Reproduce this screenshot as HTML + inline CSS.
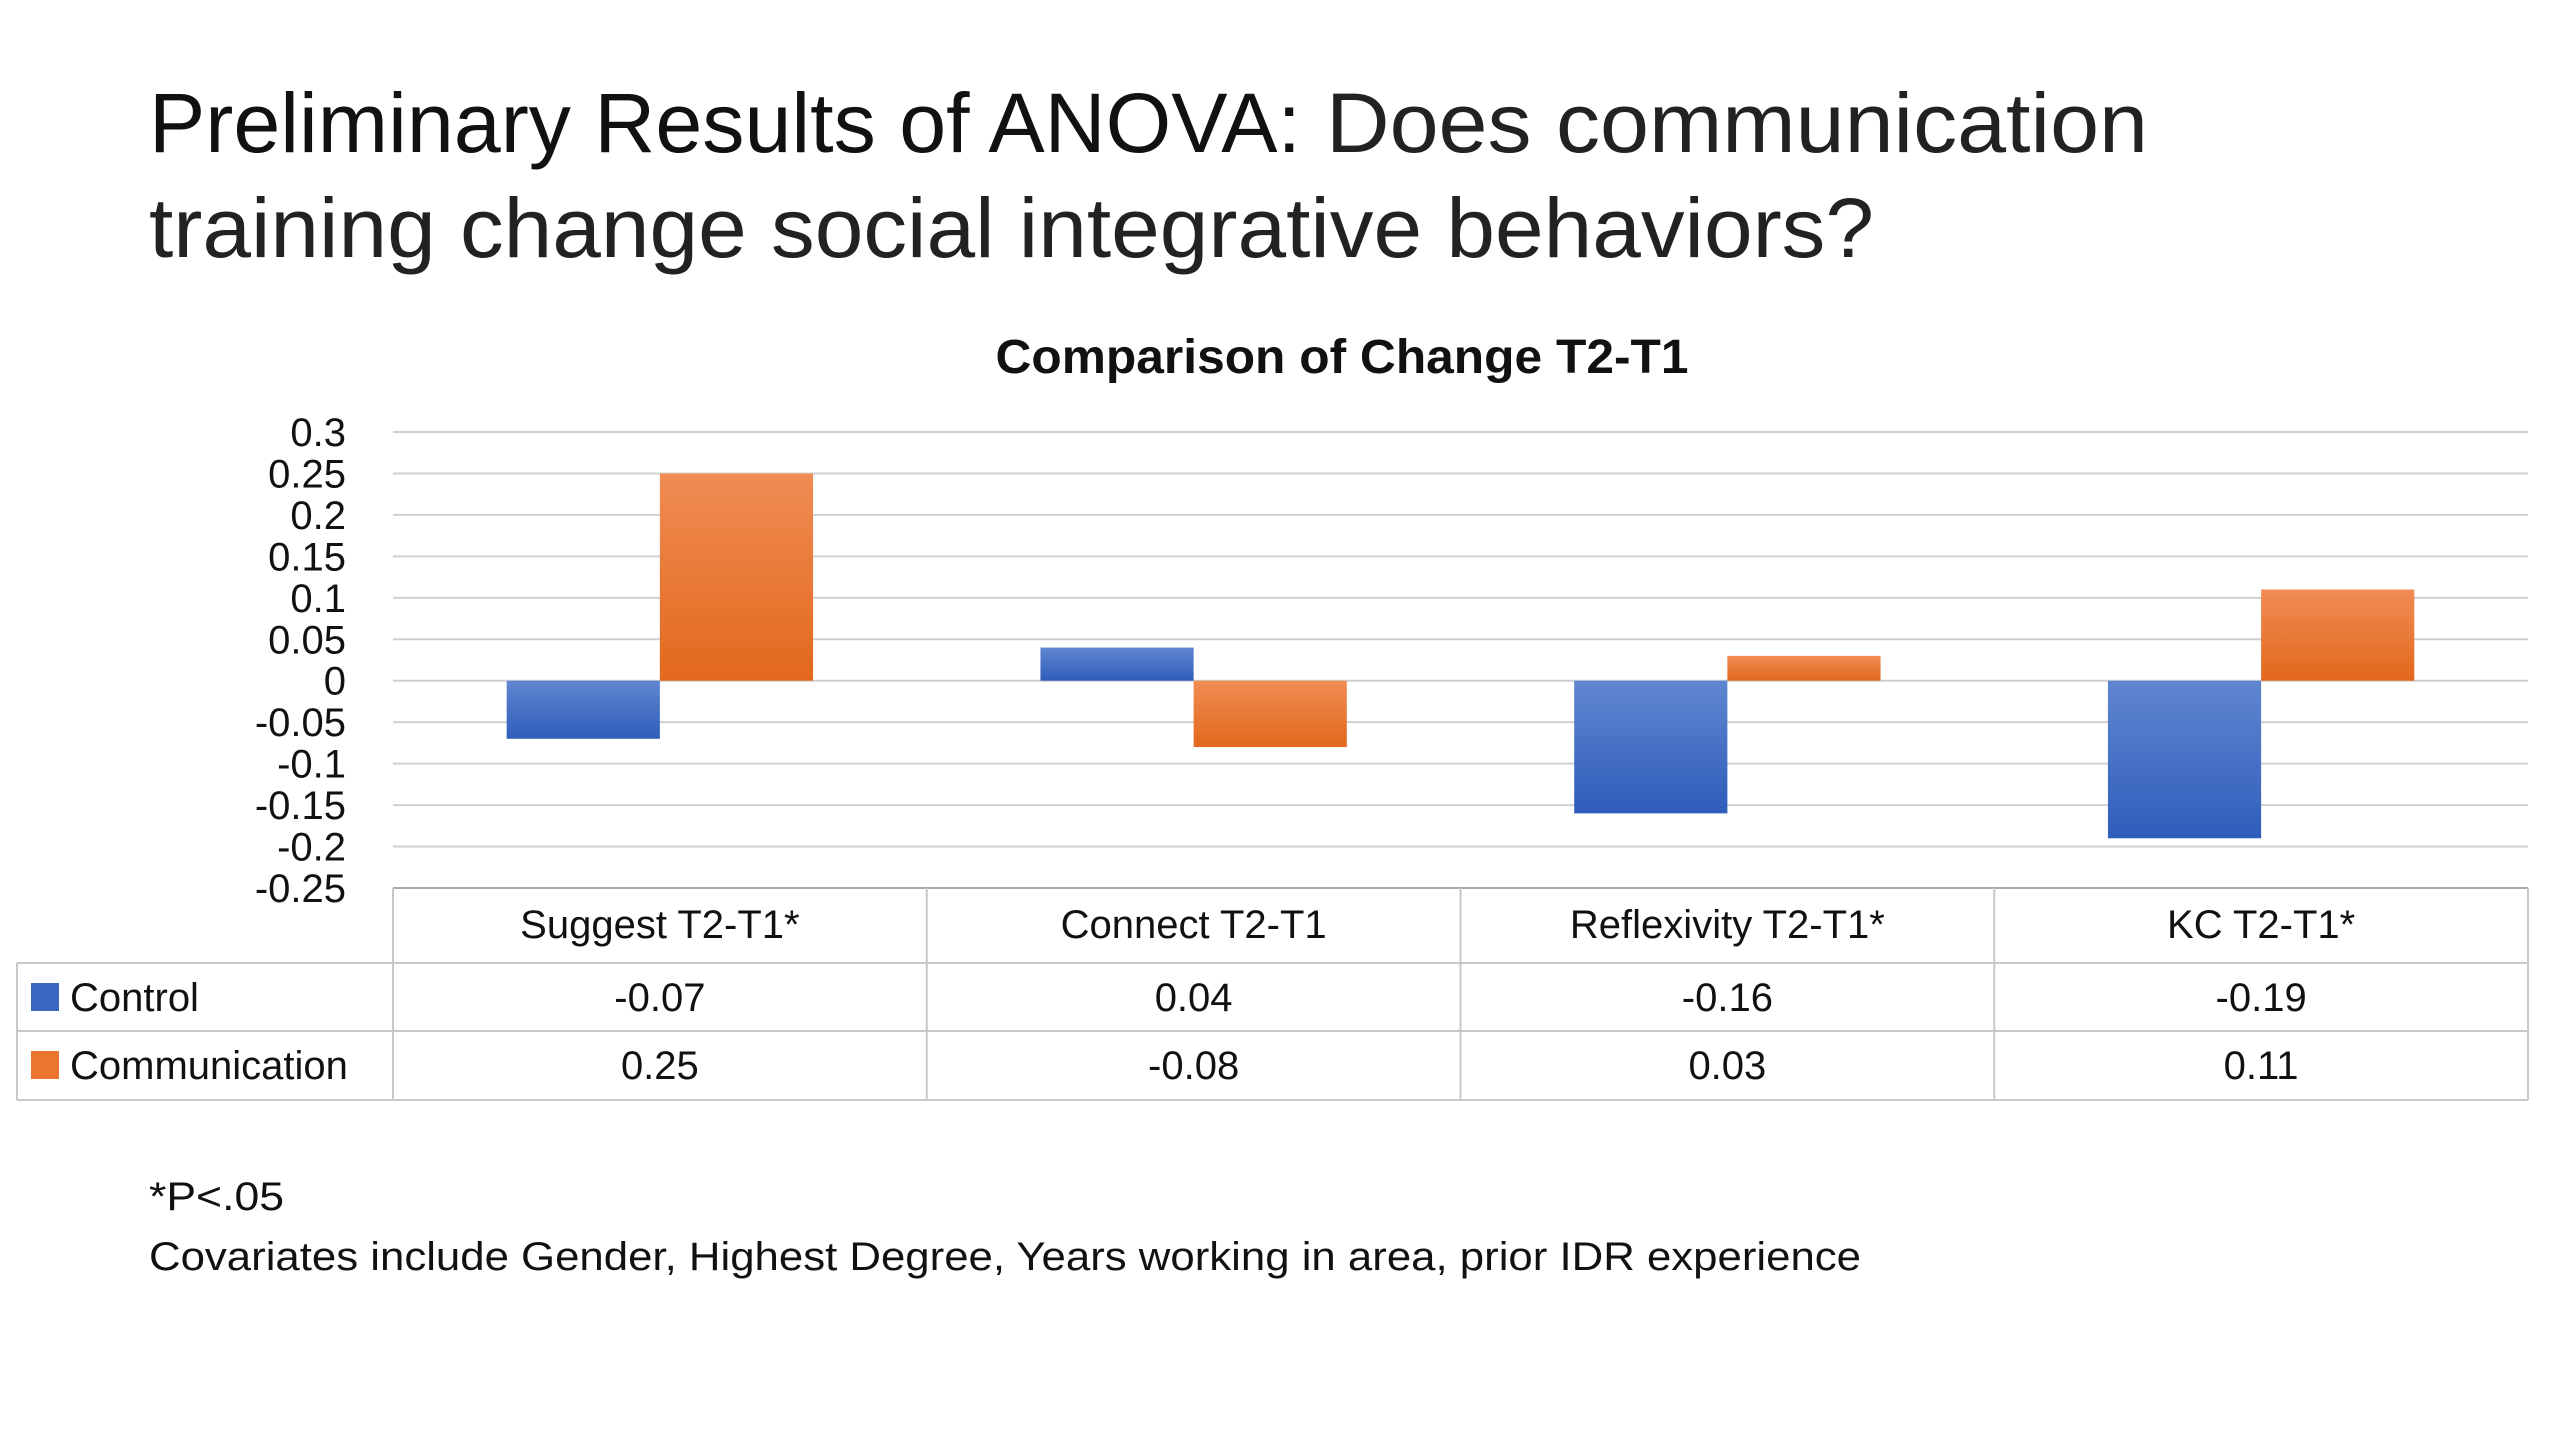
<!DOCTYPE html>
<html><head><meta charset="utf-8"><style>
html,body{margin:0;padding:0;background:#fff;}
svg{display:block;font-family:"Liberation Sans",sans-serif;}
</style></head><body>
<svg id="chart" width="2560" height="1440" viewBox="0 0 2560 1440" xmlns="http://www.w3.org/2000/svg">
<defs>
<linearGradient id="gBlue" x1="0" y1="0" x2="0" y2="1"><stop offset="0" stop-color="#5f86d0"/><stop offset="1" stop-color="#2f5dba"/></linearGradient>
<linearGradient id="gOrange" x1="0" y1="0" x2="0" y2="1"><stop offset="0" stop-color="#f08c54"/><stop offset="1" stop-color="#e2681c"/></linearGradient>
</defs>
<text x="149" y="152" font-size="84" fill="#111" textLength="1152" lengthAdjust="spacingAndGlyphs">Preliminary Results of ANOVA:</text>
<text x="1326" y="152" font-size="84" fill="#222" font-weight="300" textLength="822" lengthAdjust="spacingAndGlyphs">Does communication</text>
<text x="149" y="257" font-size="84" fill="#222" textLength="1725" lengthAdjust="spacingAndGlyphs">training change social integrative behaviors?</text>
<text x="1342" y="373" font-size="48" font-weight="bold" fill="#111" text-anchor="middle" textLength="693" lengthAdjust="spacingAndGlyphs">Comparison of Change T2-T1</text>
<g id="grid"></g>
<g id="bars"></g>
<g id="table"></g>
<text x="149" y="1210" font-size="40" fill="#111" textLength="135" lengthAdjust="spacingAndGlyphs">*P&lt;.05</text>
<text x="149" y="1270" font-size="40" fill="#111" textLength="1712" lengthAdjust="spacingAndGlyphs">Covariates include Gender, Highest Degree, Years working in area, prior IDR experience</text>
</svg>
<script>
const categories = ["Suggest T2-T1*", "Connect T2-T1", "Reflexivity T2-T1*", "KC T2-T1*"];
const controlValues = [-0.07, 0.04, -0.16, -0.19];
const communicationValues = [0.25, -0.08, 0.03, 0.11];
const controlLabels = ["-0.07", "0.04", "-0.16", "-0.19"];
const communicationLabels = ["0.25", "-0.08", "0.03", "0.11"];
const tickValues = [0.3, 0.25, 0.2, 0.15, 0.1, 0.05, 0, -0.05, -0.1, -0.15, -0.2, -0.25];
const tickLabels = ["0.3","0.25","0.2","0.15","0.1","0.05","0","-0.05","-0.1","-0.15","-0.2","-0.25"];
const seriesNames = ["Control", "Communication"];

const NS = "http://www.w3.org/2000/svg";
const L = 393, R = 2528, TOP = 432, BOT = 888;
const yMin = -0.25, yMax = 0.3;
const y = v => TOP + (yMax - v) / (yMax - yMin) * (BOT - TOP);
const bandW = (R - L) / categories.length;
const xBand = i => L + i * bandW;
function mk(tag, attrs, parent, txt) {
  const e = document.createElementNS(NS, tag);
  for (const k in attrs) e.setAttribute(k, attrs[k]);
  if (txt !== undefined) e.textContent = txt;
  parent.appendChild(e);
  return e;
}
const grid = document.getElementById('grid');
tickValues.forEach((v, i) => {
  const ln = mk('line', {x1: L, x2: R, y1: y(v), y2: y(v), stroke: '#d0d0d0', 'stroke-width': 2}, grid);
  
  
  const t = mk('text', {x: 346, y: y(v) + 14, 'font-size': 40, 'text-anchor': 'end', fill: '#111'}, grid, tickLabels[i]);
  
  
});
const bars = document.getElementById('bars');
const barW = bandW * 0.287, gap = bandW * 0.213;
categories.forEach((c, i) => {
  const x0 = xBand(i) + gap;
  const v1 = controlValues[i], v2 = communicationValues[i];
  const b1 = mk('rect', {x: x0, y: Math.min(y(v1), y(0)), width: barW, height: Math.abs(y(v1) - y(0)), fill: 'url(#gBlue)'}, bars);
  
  
  const b2 = mk('rect', {x: x0 + barW, y: Math.min(y(v2), y(0)), width: barW, height: Math.abs(y(v2) - y(0)), fill: 'url(#gOrange)'}, bars);
  
  
});
const tb = document.getElementById('table');
const rowY = [888, 963, 1031, 1100];
const TL = 17;
const lineStyle = {stroke: '#c8c8c8', 'stroke-width': 2};
mk('line', Object.assign({x1: L, x2: R, y1: 888, y2: 888}, lineStyle, {stroke: '#aaa'}), tb);
[963, 1031, 1100].forEach(yy => mk('line', Object.assign({x1: TL, x2: R, y1: yy, y2: yy}, lineStyle), tb));
mk('line', Object.assign({x1: TL, x2: TL, y1: 963, y2: 1100}, lineStyle), tb);
for (let i = 0; i <= categories.length; i++) mk('line', Object.assign({x1: xBand(i), x2: xBand(i), y1: 888, y2: 1100}, lineStyle), tb);
categories.forEach((c, i) => {
  const cx = xBand(i) + bandW / 2;
  const t = mk('text', {x: cx, y: 938, 'font-size': 40, 'text-anchor': 'middle', fill: '#111'}, tb, c);
  
  
  const a = mk('text', {x: cx, y: 1011, 'font-size': 40, 'text-anchor': 'middle', fill: '#111'}, tb, controlLabels[i]);
  
  
  const b = mk('text', {x: cx, y: 1079, 'font-size': 40, 'text-anchor': 'middle', fill: '#111'}, tb, communicationLabels[i]);
  
  
});
const fills = ['#3c67c0', '#ea7430'];
seriesNames.forEach((s, i) => {
  const cy = i === 0 ? 997 : 1065;
  const k = mk('rect', {x: 31, y: cy - 14, width: 28, height: 28, fill: fills[i]}, tb);
  
  
  const t = mk('text', {x: 70, y: cy + 14, 'font-size': 40, fill: '#111'}, tb, s);
  
  
});
</script>
</body></html>
